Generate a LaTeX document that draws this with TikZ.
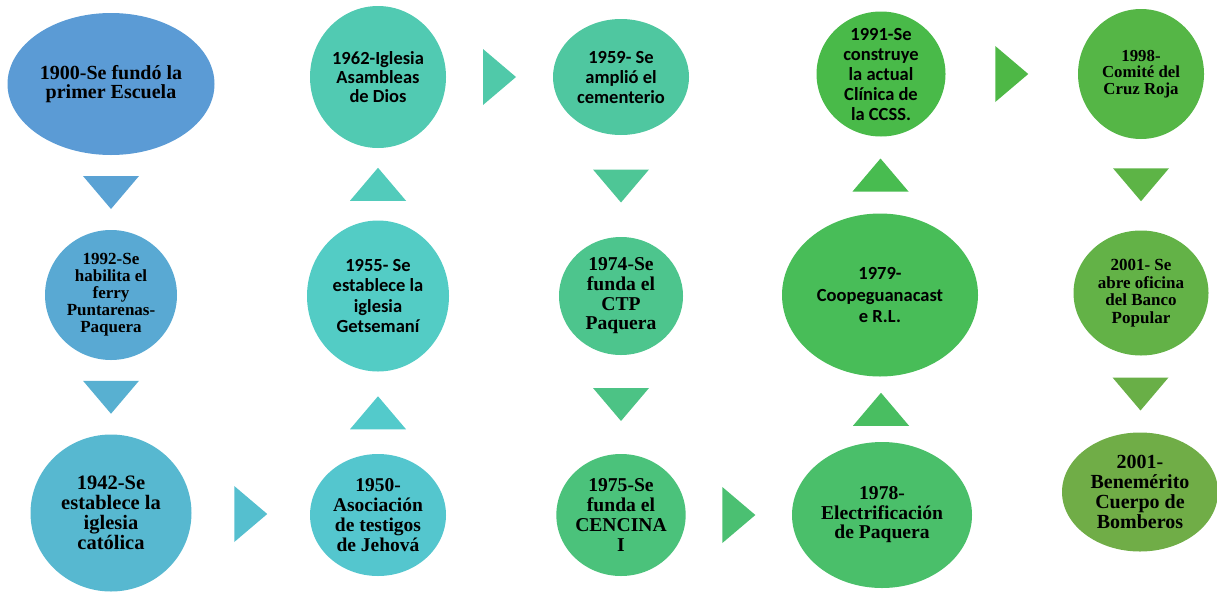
\documentclass[tikz,border=0pt]{standalone}
\usepackage{fontspec}
\setmainfont{Liberation Serif}
\newfontfamily\calibrifont{Carlito}
\usepackage{xcolor}
\usepackage{tikz}
\usetikzlibrary{shapes.geometric, calc}

% colour range, blue to green
\definecolor{c0}{RGB}{91,155,213}
\definecolor{c1}{RGB}{90,162,212}
\definecolor{c2}{RGB}{89,169,211}
\definecolor{c3}{RGB}{88,176,209}
\definecolor{c4}{RGB}{87,184,208}
\definecolor{c5}{RGB}{85,191,207}
\definecolor{c6}{RGB}{84,198,206}
\definecolor{c7}{RGB}{83,202,203}
\definecolor{c8}{RGB}{83,204,197}
\definecolor{c9}{RGB}{82,203,187}
\definecolor{c10}{RGB}{81,202,178}
\definecolor{c11}{RGB}{80,201,169}
\definecolor{c12}{RGB}{79,199,160}
\definecolor{c13}{RGB}{78,198,150}
\definecolor{c14}{RGB}{77,197,141}
\definecolor{c15}{RGB}{76,195,133}
\definecolor{c16}{RGB}{75,194,123}
\definecolor{c17}{RGB}{75,192,114}
\definecolor{c18}{RGB}{74,191,106}
\definecolor{c19}{RGB}{73,190,97}
\definecolor{c20}{RGB}{72,189,88}
\definecolor{c21}{RGB}{72,188,80}
\definecolor{c22}{RGB}{73,186,73}
\definecolor{c23}{RGB}{78,184,70}
\definecolor{c24}{RGB}{85,182,70}
\definecolor{c25}{RGB}{93,180,70}
\definecolor{c26}{RGB}{99,178,71}
\definecolor{c27}{RGB}{105,175,71}
\definecolor{c28}{RGB}{112,173,71}

\begin{document}
\begin{tikzpicture}[
        x=1pt, y=-1pt,
        bubble/.style={ellipse, inner sep=0pt, align=center, text=black},
        serif_txt/.style 2 args={font=\bfseries\fontsize{#1}{#2}\selectfont},
        sans_txt/.style 2 args={font=\calibrifont\bfseries\fontsize{#1}{#2}\selectfont},
        pics/tri_down/.style={code={\fill[#1] (-28,-16.5) -- (28,-16.5) -- (0,16.5) -- cycle;}},
        pics/tri_up/.style={code={\fill[#1] (-28,16.5) -- (28,16.5) -- (0,-16.5) -- cycle;}},
        pics/tri_right/.style={code={\fill[#1] (-16.5,-28) -- (16.5,0) -- (-16.5,28) -- cycle;}}
        ]
        \useasboundingbox (0,0) rectangle (1217,592);

        % Column 1
        \node[bubble, fill=c0, minimum width=207, minimum height=142, serif_txt={20}{19.5}] (n1900) at (111,84) {1900-Se fundó la\\primer Escuela};
        \node[bubble, fill=c2, minimum width=132, minimum height=130, serif_txt={17}{17}] (n1992) at (111,295) {1992-Se\\habilita el\\ferry\\Puntarenas-\\Paquera};
        \node[bubble, fill=c4, minimum width=161, minimum height=157, serif_txt={20.5}{20}] (n1942) at (111,513) {1942-Se\\establece la\\iglesia\\católica};

        % Column 2
        \node[bubble, fill=c6, minimum width=136, minimum height=122, serif_txt={19.5}{20}] (n1950) at (378,515) {1950-\\Asociación\\de testigos\\de Jehová};
        \node[bubble, fill=c8, minimum width=142, minimum height=151, sans_txt={18.5}{20.5}] (n1955) at (378,296) {1955- Se\\establece la\\iglesia\\Getsemaní};
        \node[bubble, fill=c10, minimum width=136, minimum height=142, sans_txt={18.5}{19}] (n1962) at (378,77) {1962-Iglesia\\Asambleas\\de Dios};

        % Column 3
        \node[bubble, fill=c12, minimum width=136, minimum height=116, sans_txt={18.5}{20}] (n1959) at (621,77) {1959- Se\\amplió el\\cementerio};
        \node[bubble, fill=c14, minimum width=124, minimum height=118, serif_txt={19.6}{19.7}] (n1974) at (621,296) {1974-Se\\funda el\\CTP\\Paquera};
        \node[bubble, fill=c16, minimum width=118, minimum height=122, serif_txt={19.6}{20}] (n1975) at (621,515) {1975-Se\\funda el\\CENCINA\\I};

        % Column 4
        \node[bubble, fill=c18, minimum width=180, minimum height=146, serif_txt={19.6}{19.5}] (n1978) at (882,515) {1978-\\Electrificación\\de Paquera};
        \node[bubble, fill=c20, minimum width=196, minimum height=163, sans_txt={18.5}{21.5}] (n1979) at (880,295) {1979-\\Coopeguanacast\\e R.L.};
        \node[bubble, fill=c22, minimum width=129, minimum height=125, inner ysep=-6pt, sans_txt={18.5}{20}] (n1991) at (881,74) {1991-Se\\construye\\la actual\\Clínica de\\la CCSS.};

        % Column 5
        \node[bubble, fill=c24, minimum width=126, minimum height=130, serif_txt={16.8}{16.5}] (n1998) at (1141,74) {1998-\\Comité del\\Cruz Roja};
        \node[bubble, fill=c26, minimum width=135, minimum height=125, serif_txt={17}{17.5}] (n2001) at (1141,293) {2001- Se\\abre oficina\\del Banco\\Popular};
        \node[bubble, fill=c28, minimum width=156, minimum height=119, serif_txt={20}{20}] (n2001b) at (1140,492) {2001-\\Benemérito\\Cuerpo de\\Bomberos};

        % Arrows between the events
        \pic at ($(n1900.south)!0.5!(n1992.north)$) {tri_down=c1};
        \pic at ($(n1992.south)!0.5!(n1942.north)$) {tri_down=c3};
        \pic at ($(n1942.east)!0.5!(n1950.west)$) {tri_right=c5};
        \pic at ($(n1950.north)!0.5!(n1955.south)$) {tri_up=c7};
        \pic at ($(n1955.north)!0.5!(n1962.south)$) {tri_up=c9};
        \pic at ($(n1962.east)!0.5!(n1959.west)$) {tri_right=c11};
        \pic at ($(n1959.south)!0.5!(n1974.north)$) {tri_down=c13};
        \pic at ($(n1974.south)!0.5!(n1975.north)$) {tri_down=c15};
        \pic at ($(n1975.east)!0.5!(n1978.west)$) {tri_right=c17};
        \pic at ($(n1978.north)!0.5!(n1979.south)$) {tri_up=c19};
        \pic at ($(n1979.north)!0.5!(n1991.south)$) {tri_up=c21};
        \pic at ($(n1991.east)!0.5!(n1998.west)$) {tri_right=c23};
        \pic at ($(n1998.south)!0.5!(n2001.north)$) {tri_down=c25};
        \pic at ($(n2001.south)!0.5!(n2001b.north)$) {tri_down=c27};

\end{tikzpicture}
\end{document}
